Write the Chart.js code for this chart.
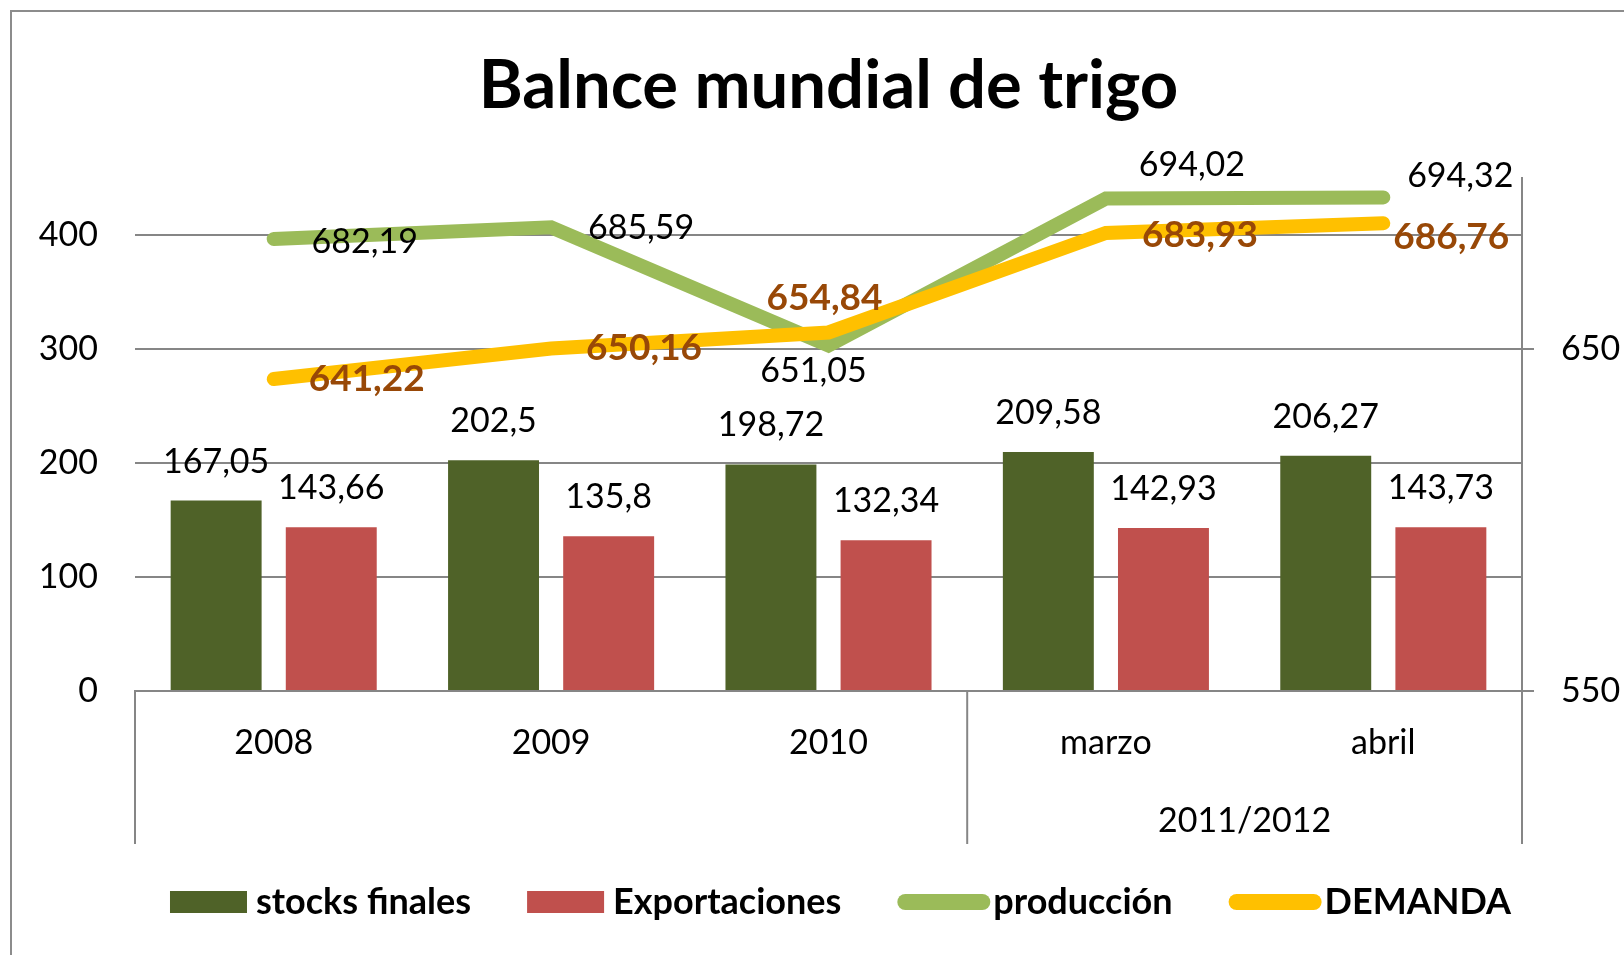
<!DOCTYPE html>
<html>
<head>
<meta charset="utf-8">
<title>Balnce mundial de trigo</title>
<script src="https://cdn.jsdelivr.net/npm/chart.js@4.4.0/dist/chart.umd.min.js"></script>
<style>
  body { margin: 0; background: #fff; }
</style>
</head>
<body>
<canvas id="chart" width="1624" height="955"></canvas>
<script>
// Data
let categories = ["2008", "2009", "2010", "marzo", "abril"];
let groupLabel = "2011/2012"; // spans marzo + abril
let stocksFinales = [167.05, 202.5, 198.72, 209.58, 206.27];
let exportaciones = [143.66, 135.8, 132.34, 142.93, 143.73];
let produccion = [682.19, 685.59, 651.05, 694.02, 694.32];
let demanda = [641.22, 650.16, 654.84, 683.93, 686.76];
let leftTicks = [0, 100, 200, 300, 400];
let rightTicks = [550, 650];

// where the line labels sit relative to their point (px), like in the original
let produccionLabelPos = [[91, 2], [90, 0], [-15, 25], [86, -34], [77, -22]];
let demandaLabelPos = [[93, 0], [93, 0], [-4, -34], [94, 2], [68, 14]];

const fontFam = "Lato, 'Open Sans', sans-serif";
const grey = "#868686";

function fmt(v) {
    return String(v).replace(".", ",");
}

// frame, title, category separators, group label and legend
const decor = {
    id: "decor",
    beforeDraw(chart) {
        const ctx = chart.ctx;
        ctx.save();
        ctx.fillStyle = "#fff";
        ctx.fillRect(0, 0, chart.width, chart.height);
        ctx.strokeStyle = "#8c8c8c";
        ctx.lineWidth = 2;
        ctx.strokeRect(11, 11, chart.width + 40, chart.height + 40);
        ctx.restore();
    },
    afterDraw(chart) {
        const ctx = chart.ctx;
        const a = chart.chartArea;
        const xs = chart.scales.x;
        ctx.save();

        // title (centered over the plot area)
        ctx.fillStyle = "#000";
        ctx.textAlign = "center";
        ctx.textBaseline = "alphabetic";
        ctx.font = "bold 67px " + fontFam;
        ctx.fillText("Balnce mundial de trigo", (a.left + a.right) / 2, 108);

        // multi level axis separators
        const mid = (xs.getPixelForValue(2) + xs.getPixelForValue(3)) / 2;
        ctx.strokeStyle = grey;
        ctx.lineWidth = 2;
        [a.left, mid, a.right].forEach(function (x) {
            ctx.beginPath();
            ctx.moveTo(x, a.bottom);
            ctx.lineTo(x, xs.bottom);
            ctx.stroke();
        });

        ctx.font = "34px " + fontFam;
        ctx.fillText(groupLabel, (xs.getPixelForValue(3) + xs.getPixelForValue(4)) / 2, a.bottom + 141);

        // legend
        ctx.font = "bold 36px " + fontFam;
        const items = chart.data.datasets.map(function (ds) {
            const isLine = ds.type === "line";
            return {
                text: ds.label,
                color: isLine ? ds.borderColor : ds.backgroundColor,
                line: isLine,
                symW: isLine ? 93 : 77,
                gap: isLine ? 3 : 9,
                textW: ctx.measureText(ds.label).width
            };
        });
        const itemGap = 56;
        let total = 0;
        items.forEach(function (it, i) {
            total += it.symW + it.gap + it.textW + (i > 0 ? itemGap : 0);
        });
        let x = (a.left + a.right) / 2 + 12 - total / 2;
        const ly = 902;
        ctx.textAlign = "left";
        items.forEach(function (it) {
            if (it.line) {
                ctx.strokeStyle = it.color;
                ctx.lineWidth = 16;
                ctx.lineCap = "round";
                ctx.beginPath();
                ctx.moveTo(x + 8, ly);
                ctx.lineTo(x + it.symW - 8, ly);
                ctx.stroke();
            } else {
                ctx.fillStyle = it.color;
                ctx.fillRect(x, ly - 11, it.symW, 22);
            }
            x += it.symW + it.gap;
            ctx.fillStyle = "#000";
            ctx.fillText(it.text, x, ly + 12);
            x += it.textW + itemGap;
        });

        ctx.restore();
    }
};

// value labels on bars and lines
const valueLabels = {
    id: "valueLabels",
    afterDatasetsDraw(chart) {
        const ctx = chart.ctx;
        ctx.save();
        ctx.textAlign = "center";
        ctx.textBaseline = "alphabetic";
        chart.data.datasets.forEach(function (ds, di) {
            const meta = chart.getDatasetMeta(di);
            meta.data.forEach(function (el, i) {
                let dx = 0, dy = -40;
                if (ds.labelPos) {
                    dx = ds.labelPos[i][0];
                    dy = ds.labelPos[i][1];
                }
                ctx.font = ds.labelBold ? "bold 37px " + fontFam : "34px " + fontFam;
                ctx.fillStyle = ds.labelColor || "#000";
                ctx.fillText(fmt(ds.data[i]), el.x + dx, el.y + dy + 12);
            });
        });
        ctx.restore();
    }
};

new Chart(document.getElementById("chart"), {
    type: "bar",
    data: {
        labels: categories,
        datasets: [
            {
                label: "stocks finales",
                data: stocksFinales,
                backgroundColor: "#4F6228",
                yAxisID: "y",
                order: 2,
                barPercentage: 0.79,
                categoryPercentage: 0.83
            },
            {
                label: "Exportaciones",
                data: exportaciones,
                backgroundColor: "#C0504D",
                yAxisID: "y",
                order: 3,
                barPercentage: 0.79,
                categoryPercentage: 0.83
            },
            {
                type: "line",
                label: "producción",
                data: produccion,
                borderColor: "#9BBB59",
                backgroundColor: "#9BBB59",
                borderWidth: 14,
                borderCapStyle: "round",
                borderJoinStyle: "miter",
                pointRadius: 0,
                tension: 0,
                yAxisID: "y2",
                order: 1,
                labelPos: produccionLabelPos
            },
            {
                type: "line",
                label: "DEMANDA",
                data: demanda,
                borderColor: "#FFC000",
                backgroundColor: "#FFC000",
                borderWidth: 14,
                borderCapStyle: "round",
                borderJoinStyle: "miter",
                pointRadius: 0,
                tension: 0,
                yAxisID: "y2",
                order: 0,
                labelPos: demandaLabelPos,
                labelBold: true,
                labelColor: "#984807"
            }
        ]
    },
    options: {
        responsive: false,
        animation: false,
        devicePixelRatio: 1,
        layout: { padding: { top: 178, bottom: 111, left: 0, right: 0 } },
        plugins: {
            legend: { display: false },
            title: { display: false },
            tooltip: { enabled: false }
        },
        scales: {
            x: {
                grid: { display: true, drawOnChartArea: false, drawTicks: false },
                border: { display: true, color: grey, width: 2 },
                ticks: {
                    color: "#000",
                    font: { family: fontFam, size: 34 },
                    padding: 32,
                    maxRotation: 0,
                    autoSkip: false
                },
                afterFit: function (s) { s.height = 153; }
            },
            y: {
                position: "left",
                min: 0,
                max: 450,
                afterBuildTicks: function (s) {
                    s.ticks = leftTicks.map(function (v) { return { value: v }; });
                },
                grid: { color: grey, lineWidth: 2, drawTicks: false },
                border: { display: false },
                ticks: { color: "#000", font: { family: fontFam, size: 34 }, padding: 37 },
                afterFit: function (s) { s.width = 135; }
            },
            y2: {
                position: "right",
                min: 550,
                max: 700,
                afterBuildTicks: function (s) {
                    s.ticks = rightTicks.map(function (v) { return { value: v }; });
                },
                grid: { drawOnChartArea: false, color: grey, lineWidth: 2, tickLength: 12 },
                border: { display: true, color: grey, width: 2 },
                ticks: { color: "#000", font: { family: fontFam, size: 34 }, padding: 27 },
                afterFit: function (s) { s.width = 102; }
            }
        }
    },
    plugins: [decor, valueLabels]
});
</script>
</body>
</html>
